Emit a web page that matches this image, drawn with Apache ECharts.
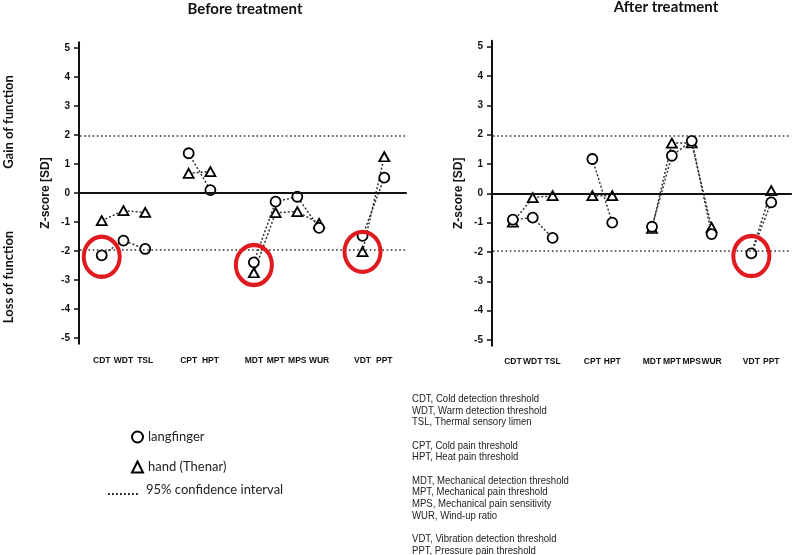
<!DOCTYPE html>
<html>
<head>
<meta charset="utf-8">
<script src="https://cdn.jsdelivr.net/npm/echarts@6/dist/echarts.min.js"></script>
<style>html,body{margin:0;padding:0;background:#fff}#c{width:800px;height:555px}</style>
</head>
<body>
<div id="c"></div>
<script>
// ---- data ----
const categories = ['CDT','WDT','TSL','CPT','HPT','MDT','MPT','MPS','WUR','VDT','PPT'];
const groupSizes = [3, 2, 4, 2];
const beforeFinger = [-2.15, -1.64, -1.93, 1.37, 0.10, -2.39, -0.30, -0.13, -1.20, -1.48, 0.53];
const beforeHand   = [-0.95, -0.61, -0.67, 0.68, 0.74, -2.75, -0.68, -0.64, -1.05, -2.02, 1.25];
const afterFinger  = [-0.90, -0.83, -1.52, 1.17, -1.00, -1.14, 1.28, 1.79, -1.39, -2.05, -0.31];
const afterHand    = [-0.98, -0.15, -0.08, -0.08, -0.08, -1.20, 1.71, 1.72, -1.16, -2.05, 0.09];
const yTicks = [-5, -4, -3, -2, -1, 0, 1, 2, 3, 4, 5];
const ciBound = 1.96;
const highlightBefore = [['CDT', -2.20], ['MDT', -2.48], ['VDT', -2.03]];
const highlightAfter = [['VDT', -2.14]];
const titles = ['Before treatment', 'After treatment'];
const seriesNames = ['langfinger', 'hand (Thenar)'];
const ciName = '95% confidence interval';
const abbreviations = [
  ['CDT, Cold detection threshold', 'WDT, Warm detection threshold', 'TSL, Thermal sensory limen'],
  ['CPT, Cold pain threshold', 'HPT, Heat pain threshold'],
  ['MDT, Mechanical detection threshold', 'MPT, Mechanical pain threshold', 'MPS, Mechanical pain sensitivity', 'WUR, Wind-up ratio'],
  ['VDT, Vibration detection threshold', 'PPT, Pressure pain threshold']
];

// ---- build slot axis (blank slot between groups) ----
const slots = [];
const slotOf = [];
let blankCount = 0;
function blank() { blankCount++; slots.push(' '.repeat(blankCount)); }
blank();
let ci = 0;
groupSizes.forEach(n => {
  for (let k = 0; k < n; k++) { slotOf.push(slots.length); slots.push(categories[ci++]); }
  blank();
});
function toSlots(vals, other) {
  const arr = slots.map(() => null);
  vals.forEach((v, i) => {
    if (other && other[i] === v) arr[slotOf[i]] = { value: v, symbol: 'none' };
    else arr[slotOf[i]] = v;
  });
  return arr;
}

const chart = echarts.init(document.getElementById('c'));
const AX = '#111';
const RED = '#e01b20';
const grids = [
  { left: 80, top: 42.2, width: 326, height: 301.6 },
  { left: 493, top: 40.8, width: 306, height: 305 }
];
const xOffsets = [7, 6];

function xAxisDef(i) {
  return {
    type: 'category', gridIndex: i, data: slots, boundaryGap: false,
    offset: xOffsets[i],
    axisLine: { lineStyle: { color: AX, width: 2 } },
    axisTick: { show: false },
    axisLabel: { interval: 0, margin: 5, color: '#111', fontFamily: 'Liberation Sans', fontWeight: 'bold', fontSize: 8.5 },
    splitLine: { show: false }
  };
}
function yAxisDef(i) {
  return {
    type: 'value', gridIndex: i, min: -5.2, max: 5.2, offset: 1,
    name: 'Z-score [SD]', nameLocation: 'middle', nameGap: 27,
    nameTextStyle: { fontFamily: 'Liberation Sans', fontWeight: 'bold', fontSize: 12, color: '#111' },
    axisLine: { show: true, lineStyle: { color: AX, width: 2 } },
    axisTick: { show: true, length: 5, customValues: yTicks, lineStyle: { color: AX, width: 1.5 } },
    axisLabel: { customValues: yTicks, margin: 9, color: '#111', fontFamily: 'Liberation Sans', fontWeight: 'bold', fontSize: 10 },
    splitLine: { show: false }
  };
}
const markLines = {
  silent: true, symbol: 'none', label: { show: false }, animation: false,
  data: [
    { yAxis: 0, lineStyle: { type: 'solid', color: '#111', width: 2.2 } },
    { yAxis: ciBound, lineStyle: { type: [1.6, 2.6], color: '#333', width: 1.6 } },
    { yAxis: -ciBound, lineStyle: { type: [1.6, 2.6], color: '#333', width: 1.6 } }
  ]
};
function panelSeries(i, finger, hand, highlights) {
  return [
    {
      name: seriesNames[1], type: 'line', xAxisIndex: i, yAxisIndex: i, z: 3,
      data: toSlots(hand, finger), symbol: 'triangle', symbolSize: [10, 9],
      itemStyle: { color: '#fff', borderColor: '#000', borderWidth: 1.8 },
      lineStyle: { type: [2, 2], color: '#333', width: 1.5 },
      markLine: markLines
    },
    {
      name: seriesNames[0], type: 'line', xAxisIndex: i, yAxisIndex: i, z: 4,
      data: toSlots(finger), symbol: 'circle', symbolSize: 10,
      itemStyle: { color: '#fff', borderColor: '#000', borderWidth: 1.8 },
      lineStyle: { type: [2, 2], color: '#333', width: 1.5 }
    },
    {
      type: 'scatter', xAxisIndex: i, yAxisIndex: i, z: 5, silent: true,
      data: highlights, symbol: 'circle', symbolSize: [36, 40],
      itemStyle: { color: 'rgba(0,0,0,0)', borderColor: RED, borderWidth: 4.2, opacity: 1 }
    }
  ];
}

const abbrText = abbreviations.map(g => g.join('\n')).join('\n\n');

chart.setOption({
  animation: false,
  backgroundColor: '#fff',
  title: [
    { text: titles[0], left: 240, top: -3, textAlign: 'center',
      textStyle: { fontFamily: 'Lato', fontWeight: 'bold', fontSize: 15, color: '#111' } },
    { text: titles[1], left: 661, top: -5, textAlign: 'center',
      textStyle: { fontFamily: 'Lato', fontWeight: 'bold', fontSize: 15, color: '#111' } }
  ],
  grid: grids,
  xAxis: [xAxisDef(0), xAxisDef(1)],
  yAxis: [yAxisDef(0), yAxisDef(1)],
  legend: {
    orient: 'vertical', left: 126, top: 425, itemGap: 16, itemWidth: 11, itemHeight: 11,
    selectedMode: false,
    textStyle: { fontFamily: 'Lato', fontSize: 13, color: '#222', lineHeight: 14 },
    data: [
      { name: seriesNames[0], icon: 'circle', itemStyle: { color: '#fff', borderColor: '#000', borderWidth: 2 } },
      { name: seriesNames[1], icon: 'triangle', itemStyle: { color: '#fff', borderColor: '#000', borderWidth: 2 } }
    ]
  },
  graphic: [
    { type: 'text', x: 9, y: 122, rotation: Math.PI / 2,
      style: { text: 'Gain of function', fontFamily: 'Lato', fontWeight: 'bold', fontSize: 13, fill: '#111', textAlign: 'center', textVerticalAlign: 'middle' } },
    { type: 'text', x: 9, y: 277, rotation: Math.PI / 2,
      style: { text: 'Loss of function', fontFamily: 'Lato', fontWeight: 'bold', fontSize: 13, fill: '#111', textAlign: 'center', textVerticalAlign: 'middle' } },
    { type: 'line', shape: { x1: 108, y1: 494, x2: 138, y2: 494 },
      style: { stroke: '#222', lineWidth: 1.8, lineDash: [1.8, 2.2] } },
    { type: 'text', x: 146, y: 490,
      style: { text: ciName, fontFamily: 'Lato', fontSize: 13, fill: '#222', textAlign: 'left', textVerticalAlign: 'middle' } },
    { type: 'text', x: 412, y: 393, scaleX: 0.87,
      style: { text: abbrText, fontFamily: 'Liberation Sans', fontSize: 11, lineHeight: 11.67, fill: '#222', textAlign: 'left', textVerticalAlign: 'top' } }
  ],
  series: [].concat(
    panelSeries(0, beforeFinger, beforeHand, highlightBefore),
    panelSeries(1, afterFinger, afterHand, highlightAfter)
  )
});
</script>
</body>
</html>
